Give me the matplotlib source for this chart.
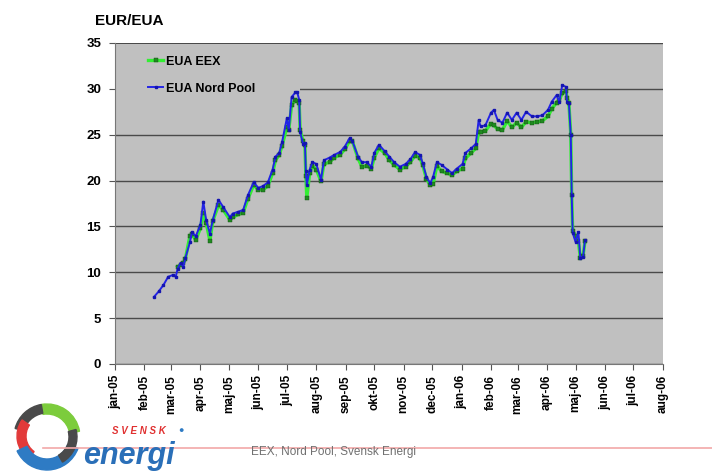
import numpy as np
import pandas as pd
import matplotlib
matplotlib.use("Agg")
import matplotlib.pyplot as plt
from matplotlib.patches import Rectangle, Wedge
from matplotlib.transforms import IdentityTransform

plt.rcParams['font.family'] = ['Liberation Sans', 'DejaVu Sans']

# Price series (EUR/EUA)
dates = [
    "2005-02-11", "2005-02-16", "2005-02-21", "2005-02-26", "2005-03-03", "2005-03-06",
    "2005-03-08", "2005-03-11", "2005-03-14", "2005-03-16", "2005-03-21", "2005-03-23",
    "2005-03-27", "2005-04-01", "2005-04-04", "2005-04-07", "2005-04-11", "2005-04-14",
    "2005-04-20", "2005-04-25", "2005-05-02", "2005-05-05", "2005-05-11", "2005-05-16",
    "2005-05-21", "2005-05-27", "2005-06-01", "2005-06-06", "2005-06-11", "2005-06-16",
    "2005-06-19", "2005-06-23", "2005-06-26", "2005-07-01", "2005-07-03", "2005-07-06",
    "2005-07-10", "2005-07-12", "2005-07-14", "2005-07-15", "2005-07-18", "2005-07-20",
    "2005-07-21", "2005-07-22", "2005-07-25", "2005-07-28", "2005-08-01", "2005-08-06",
    "2005-08-09", "2005-08-15", "2005-08-20", "2005-08-26", "2005-08-31", "2005-09-05",
    "2005-09-08", "2005-09-14", "2005-09-18", "2005-09-23", "2005-09-28", "2005-10-01",
    "2005-10-06", "2005-10-12", "2005-10-17", "2005-10-22", "2005-10-28", "2005-11-03",
    "2005-11-08", "2005-11-13", "2005-11-18", "2005-11-21", "2005-11-25", "2005-11-29",
    "2005-12-02", "2005-12-06", "2005-12-11", "2005-12-17", "2005-12-22", "2005-12-27",
    "2006-01-02", "2006-01-05", "2006-01-11", "2006-01-16", "2006-01-19", "2006-01-21",
    "2006-01-26", "2006-02-01", "2006-02-04", "2006-02-08", "2006-02-13", "2006-02-18",
    "2006-02-23", "2006-02-28", "2006-03-05", "2006-03-10", "2006-03-16", "2006-03-21",
    "2006-03-27", "2006-04-02", "2006-04-06", "2006-04-11", "2006-04-14", "2006-04-17",
    "2006-04-21", "2006-04-22", "2006-04-24", "2006-04-26", "2006-04-27", "2006-04-28",
    "2006-05-01", "2006-05-04", "2006-05-06", "2006-05-09", "2006-05-11",
]
nord_pool = [
    7.3, 7.9, 8.6, 9.5, 9.7, 9.5,
    10.4, 11.0, 10.6, 11.5, 13.3, 14.4,
    13.9, 15.2, 17.7, 15.7, 14.2, 15.7,
    17.9, 17.1, 16.0, 16.4, 16.6, 16.8,
    18.4, 19.8, 19.2, 19.4, 19.8, 21.2,
    22.6, 23.0, 24.2, 26.8, 25.5, 29.1,
    29.6, 29.6, 28.8, 25.3, 24.0, 24.1,
    21.0, 19.5, 21.2, 22.0, 21.8, 20.1,
    22.2, 22.5, 22.8, 23.1, 23.7, 24.6,
    24.3, 22.6, 22.0, 22.0, 21.5, 23.0,
    23.9, 23.2, 22.6, 22.0, 21.5, 21.8,
    22.3, 23.1, 22.8, 21.9, 20.4, 19.7,
    20.4, 22.0, 21.7, 21.2, 20.8, 21.3,
    21.8, 23.0, 23.5, 24.0, 26.6, 25.9,
    26.0, 27.4, 27.7, 26.6, 26.3, 27.4,
    26.6, 27.4, 26.6, 27.5, 27.0, 27.0,
    27.1, 27.7, 28.6, 29.3, 28.6, 30.4,
    30.2, 28.6, 28.5, 25.0, 18.4, 14.3,
    13.3, 14.4, 11.6, 11.7, 13.5,
]
eex = [
    None, None, None, None, None, None,
    10.6, 10.8, 11.0, 11.4, 14.0, 14.2,
    13.5, 14.8, 16.5, 15.4, 13.4, 15.6,
    17.3, 16.8, 15.7, 16.0, 16.3, 16.5,
    18.0, 19.5, 19.0, 19.0, 19.4, 20.8,
    22.2, 22.8, 23.8, 25.8, 25.5, 28.2,
    28.8, 28.7, 28.5, 25.5, 24.3, 23.9,
    20.5, 18.1, 20.8, 21.6, 21.2, 19.9,
    21.8, 22.0, 22.5, 22.8, 23.4, 24.3,
    24.3, 22.4, 21.5, 21.6, 21.3, 22.5,
    23.5, 23.0, 22.2, 21.7, 21.2, 21.5,
    22.0, 22.7, 22.5, 21.7, 20.2, 19.5,
    19.6, 21.6, 21.0, 20.8, 20.6, 21.0,
    21.3, 22.4, 23.0, 23.5, 25.3, 25.3,
    25.4, 26.2, 26.0, 25.6, 25.5, 26.5,
    25.8, 26.3, 25.8, 26.4, 26.3, 26.4,
    26.5, 27.0, 27.8, 28.5, 28.8, 29.5,
    29.8, 29.0, 28.5, 25.0, 18.4, 14.5,
    14.0, 13.4, 11.6, 11.8, 13.4,
]

month_ticks = pd.date_range("2005-01-01", "2006-08-01", freq="MS")
month_labels = ["jan-05", "feb-05", "mar-05", "apr-05", "maj-05", "jun-05", "jul-05",
                "aug-05", "sep-05", "okt-05", "nov-05", "dec-05", "jan-06", "feb-06",
                "mar-06", "apr-06", "maj-06", "jun-06", "jul-06", "aug-06"]
y_ticks = [0, 5, 10, 15, 20, 25, 30, 35]

x = pd.to_datetime(dates)
np_vals = np.array(nord_pool, dtype=float)
eex_vals = np.array([np.nan if v is None else v for v in eex], dtype=float)

fig = plt.figure(figsize=(7.12, 4.72), dpi=100)
ax = fig.add_axes([0.1615, 0.229, 0.7695, 0.680])
ax.set_facecolor('#c0c0c0')

ax.plot(x, eex_vals, '-', color='#33ee33', linewidth=2.4, marker='s', markersize=2.2,
        markerfacecolor='#1f8a1f', markeredgecolor='#124d12', markeredgewidth=0.3,
        label='EUA EEX', zorder=3)
ax.plot(x, np_vals, '-', color='#2323e6', linewidth=1.4, marker='s', markersize=1.8,
        markerfacecolor='#1515b0', markeredgecolor='#1515b0', label='EUA Nord Pool', zorder=4)

ax.set_xlim(month_ticks[0], month_ticks[-1])
ax.set_ylim(0, 35)
ax.set_yticks(y_ticks)
ax.set_xticks(month_ticks)
ax.set_xticklabels(month_labels, rotation=90, fontsize=8.5, fontweight='bold')
ax.tick_params(axis='y', labelsize=9.5, length=4, color='#555555', pad=6)
ax.tick_params(axis='x', length=4, color='#555555', pad=4)
for lbl in ax.get_yticklabels():
    lbl.set_fontweight('bold')

ax.set_axisbelow(True)
ax.yaxis.grid(True, color='#4a4a4a', linewidth=1.0)
for side in ['top', 'right']:
    ax.spines[side].set_visible(False)
ax.spines['left'].set_color('#777777')
ax.spines['bottom'].set_color('#777777')

# legend area hides gridlines like the original
ax.add_patch(Rectangle((0.002, 0.835), 0.335, 0.163, transform=ax.transAxes,
                       facecolor='#c0c0c0', edgecolor='none', zorder=1))
leg = ax.legend(loc='upper left', bbox_to_anchor=(0.04, 0.995), frameon=False,
                handlelength=1.2, handletextpad=0.2, labelspacing=1.2,
                prop={'size': 9, 'weight': 'bold'})

fig.text(0.133, 0.955, "EUR/EUA", fontsize=11, fontweight='bold', ha='left', va='center')

# footer
fig.add_artist(plt.Line2D([0.06, 1.0], [0.051, 0.051], color='#f2a8a8',
                          linewidth=1.2, transform=fig.transFigure))
fig.text(0.352, 0.043, "EEX, Nord Pool, Svensk Energi", fontsize=8.5, color='#707070',
         ha='left', va='center')
fig.text(0.157, 0.087, "S V E N S K", fontsize=7, color='#e03030', fontweight='bold',
         style='italic', ha='left', va='center')
fig.text(0.25, 0.088, "\u25cf", fontsize=6.5, color='#2e7bc4', ha='left', va='center')
fig.text(0.116, 0.033, "energi", fontsize=22, color='#2a6fb8', fontweight='bold',
         style='italic', ha='left', va='center')

# swirl logo, drawn in pixel coordinates
cx, cy, r = 47, 35, 33
swirl = [
    ((cx, cy), r, 10, 100, 10, '#7ccc3c'),
    ((cx, cy), r, 100, 165, 9, '#4a4a4a'),
    ((cx - 2, cy + 1), r - 5, 145, 235, 9, '#e23a3a'),
    ((cx, cy), r, 205, 340, 11, '#2e7bc4'),
    ((cx + 1, cy), r - 4, 300, 15, 8, '#4a4a4a'),
]
for c, rad, a0, a1, w, col in swirl:
    fig.add_artist(Wedge(c, rad, a0, a1, width=w, color=col, transform=IdentityTransform()))

fig.savefig("out.png", dpi=100)
